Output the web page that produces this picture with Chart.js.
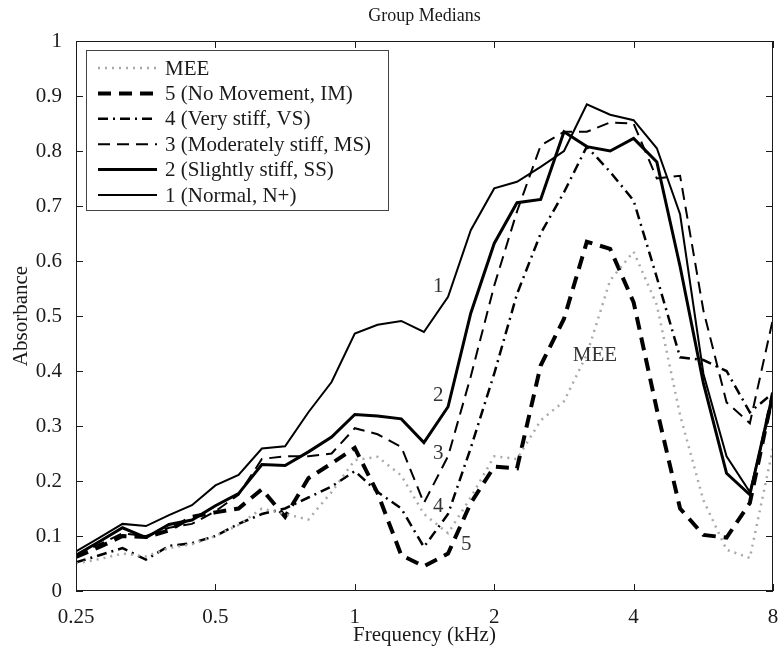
<!DOCTYPE html>
<html>
<head>
<meta charset="utf-8">
<script src="https://cdn.jsdelivr.net/npm/chart.js@4.4.1/dist/chart.umd.min.js"></script>
<style>
  body { margin: 0; background: #fff; }
  #wrap { width: 778px; height: 650px; }
</style>
</head>
<body>
<div id="wrap"><canvas id="chart" width="778" height="650"></canvas></div>
<script>
// 1/6-octave frequencies (kHz)
const freqs = [0.25, 0.281, 0.315, 0.354, 0.397, 0.445, 0.5, 0.561, 0.63, 0.707, 0.794, 0.891, 1, 1.12, 1.26, 1.41,
  1.59, 1.78, 2, 2.24, 2.52, 2.83, 3.17, 3.56, 4, 4.49, 5.04, 5.66, 6.35, 7.13, 8];

const mee = [0.05, 0.058, 0.068, 0.063, 0.078, 0.085, 0.1, 0.12, 0.15, 0.14, 0.13, 0.18, 0.238, 0.244, 0.21, 0.14,
  0.105, 0.17, 0.245, 0.24, 0.31, 0.345, 0.43, 0.565, 0.617, 0.52, 0.32, 0.165, 0.075, 0.06, 0.26];
const grade5 = [0.062, 0.08, 0.1, 0.098, 0.11, 0.135, 0.143, 0.15, 0.185, 0.135, 0.205, 0.232, 0.26, 0.178, 0.065, 0.045,
  0.068, 0.16, 0.226, 0.223, 0.41, 0.495, 0.635, 0.622, 0.525, 0.33, 0.15, 0.102, 0.097, 0.16, 0.36];
const grade4 = [0.052, 0.065, 0.078, 0.057, 0.082, 0.087, 0.1, 0.122, 0.14, 0.15, 0.17, 0.19, 0.218, 0.18, 0.15, 0.08,
  0.14, 0.26, 0.395, 0.54, 0.65, 0.725, 0.808, 0.762, 0.71, 0.57, 0.425, 0.42, 0.4, 0.325, 0.36];
const grade3 = [0.065, 0.085, 0.105, 0.1, 0.115, 0.122, 0.145, 0.175, 0.24, 0.245, 0.245, 0.25, 0.296, 0.285, 0.262, 0.16,
  0.245, 0.39, 0.555, 0.69, 0.81, 0.835, 0.835, 0.852, 0.85, 0.75, 0.755, 0.51, 0.343, 0.305, 0.495];
const grade2 = [0.065, 0.09, 0.115, 0.097, 0.121, 0.129, 0.155, 0.177, 0.23, 0.228, 0.253, 0.28, 0.321, 0.318, 0.313, 0.27,
  0.335, 0.505, 0.632, 0.706, 0.712, 0.835, 0.808, 0.8, 0.823, 0.78, 0.59, 0.378, 0.214, 0.175, 0.36];
const grade1 = [0.072, 0.097, 0.122, 0.118, 0.138, 0.156, 0.192, 0.211, 0.259, 0.263, 0.325, 0.38, 0.468, 0.484, 0.491, 0.471,
  0.535, 0.656, 0.732, 0.744, 0.771, 0.8, 0.885, 0.866, 0.856, 0.805, 0.685, 0.395, 0.245, 0.18, 0.35];

const seriesNames = ['MEE', '5 (No Movement, IM)', '4 (Very stiff, VS)', '3 (Moderately stiff, MS)',
  '2 (Slightly stiff, SS)', '1 (Normal, N+)'];

const xTicks = [0.25, 0.5, 1, 2, 4, 8];
const xTickLabels = ['0.25', '0.5', '1', '2', '4', '8'];
const yTicks = [0, 0.1, 0.2, 0.3, 0.4, 0.5, 0.6, 0.7, 0.8, 0.9, 1];
const yTickLabels = ['0', '0.1', '0.2', '0.3', '0.4', '0.5', '0.6', '0.7', '0.8', '0.9', '1'];

// in-plot curve labels
const curveLabels = ['1', '2', '3', '4', '5', 'MEE'];
const curveLabelFreqs = [1.515, 1.515, 1.515, 1.515, 1.74, 3.3];
const curveLabelValues = [0.553, 0.356, 0.25, 0.153, 0.084, 0.429];

const FONT = '"Liberation Serif", "Times New Roman", serif';
const INK = '#1a1a1a';

const styles = [
  { color: '#a9a9a9', width: 2.5, dash: [2, 5] },
  { color: '#000', width: 4, dash: [13, 8] },
  { color: '#000', width: 2.5, dash: [10, 5, 2, 5] },
  { color: '#000', width: 2, dash: [12, 7] },
  { color: '#000', width: 3, dash: [] },
  { color: '#000', width: 2, dash: [] }
];
const seriesData = [mee, grade5, grade4, grade3, grade2, grade1];

const datasets = seriesData.map((vals, i) => ({
  label: seriesNames[i],
  data: vals.map((v, j) => ({ x: freqs[j], y: v })),
  borderColor: styles[i].color,
  borderWidth: styles[i].width,
  borderDash: styles[i].dash,
  borderCapStyle: 'butt',
  pointRadius: 0,
  tension: 0,
  fill: false
}));

const decor = {
  id: 'decor',
  afterDraw(chart) {
    const { ctx, chartArea: a, scales } = chart;
    const xs = scales.x, ys = scales.y;
    ctx.save();
    ctx.strokeStyle = INK;
    ctx.lineWidth = 1;
    ctx.setLineDash([]);
    // frame
    ctx.strokeRect(Math.round(a.left) + 0.5, Math.round(a.top) + 0.5,
      Math.round(a.right - a.left) - 1, Math.round(a.bottom - a.top) - 1);
    // inward ticks
    ctx.beginPath();
    xTicks.forEach(v => {
      const px = Math.round(xs.getPixelForValue(v)) + 0.5;
      ctx.moveTo(px, a.bottom); ctx.lineTo(px, a.bottom - 7);
      ctx.moveTo(px, a.top); ctx.lineTo(px, a.top + 7);
    });
    yTicks.forEach(v => {
      const py = Math.round(ys.getPixelForValue(v)) + 0.5;
      ctx.moveTo(a.left, py); ctx.lineTo(a.left + 7, py);
      ctx.moveTo(a.right, py); ctx.lineTo(a.right - 7, py);
    });
    ctx.stroke();

    // curve labels
    ctx.fillStyle = '#333';
    ctx.font = '21px ' + FONT;
    ctx.textAlign = 'center';
    ctx.textBaseline = 'middle';
    curveLabels.forEach((t, i) => {
      ctx.fillText(t, xs.getPixelForValue(curveLabelFreqs[i]), ys.getPixelForValue(curveLabelValues[i]));
    });

    // legend
    const lx = 86, ly = 50, lw = 302, lh = 160;
    ctx.fillStyle = '#fff';
    ctx.fillRect(lx, ly, lw, lh);
    ctx.strokeStyle = '#444';
    ctx.lineWidth = 1;
    ctx.strokeRect(lx + 0.5, ly + 0.5, lw, lh);
    ctx.textAlign = 'left';
    ctx.fillStyle = INK;
    chart.data.datasets.forEach((ds, i) => {
      const ry = 68 + i * 25.4;
      ctx.beginPath();
      ctx.strokeStyle = ds.borderColor;
      ctx.lineWidth = ds.borderWidth;
      ctx.lineCap = 'butt';
      ctx.setLineDash(ds.borderDash);
      ctx.moveTo(98, ry); ctx.lineTo(157, ry);
      ctx.stroke();
      ctx.setLineDash([]);
      ctx.fillText(ds.label, 165, ry + 1);
    });

    // title
    ctx.font = '18px ' + FONT;
    ctx.textAlign = 'center';
    ctx.fillText('Group Medians', (a.left + a.right) / 2, 16);
    ctx.restore();
  }
};

new Chart(document.getElementById('chart'), {
  type: 'line',
  data: { datasets },
  options: {
    responsive: false,
    animation: false,
    devicePixelRatio: 1,
    layout: { padding: { top: 41, right: 5, left: 0, bottom: 0 } },
    plugins: { legend: { display: false }, tooltip: { enabled: false }, title: { display: false } },
    scales: {
      x: {
        type: 'logarithmic',
        min: 0.25,
        max: 8,
        afterBuildTicks: s => { s.ticks = xTicks.map(v => ({ value: v })); },
        afterFit: s => { s.height = 59; s.paddingLeft = 0; s.paddingRight = 0; },
        grid: { display: false },
        border: { display: false },
        ticks: {
          autoSkip: false, maxRotation: 0, padding: 6, color: INK,
          font: { family: FONT, size: 21 },
          callback: (v, i) => xTickLabels[i]
        },
        title: { display: true, text: 'Frequency (kHz)', color: INK, font: { family: FONT, size: 21 }, padding: { top: 0, bottom: 2 } }
      },
      y: {
        min: 0,
        max: 1,
        afterBuildTicks: s => { s.ticks = yTicks.map(v => ({ value: v })); },
        afterFit: s => { s.width = 76; s.paddingTop = 0; s.paddingBottom = 0; },
        grid: { display: false },
        border: { display: false },
        ticks: {
          autoSkip: false, padding: 6, color: INK,
          font: { family: FONT, size: 21 },
          callback: (v, i) => yTickLabels[i]
        },
        title: { display: true, text: 'Absorbance', color: INK, font: { family: FONT, size: 21 }, padding: { top: 9, bottom: 0 } }
      }
    }
  },
  plugins: [decor]
});
</script>
</body>
</html>
